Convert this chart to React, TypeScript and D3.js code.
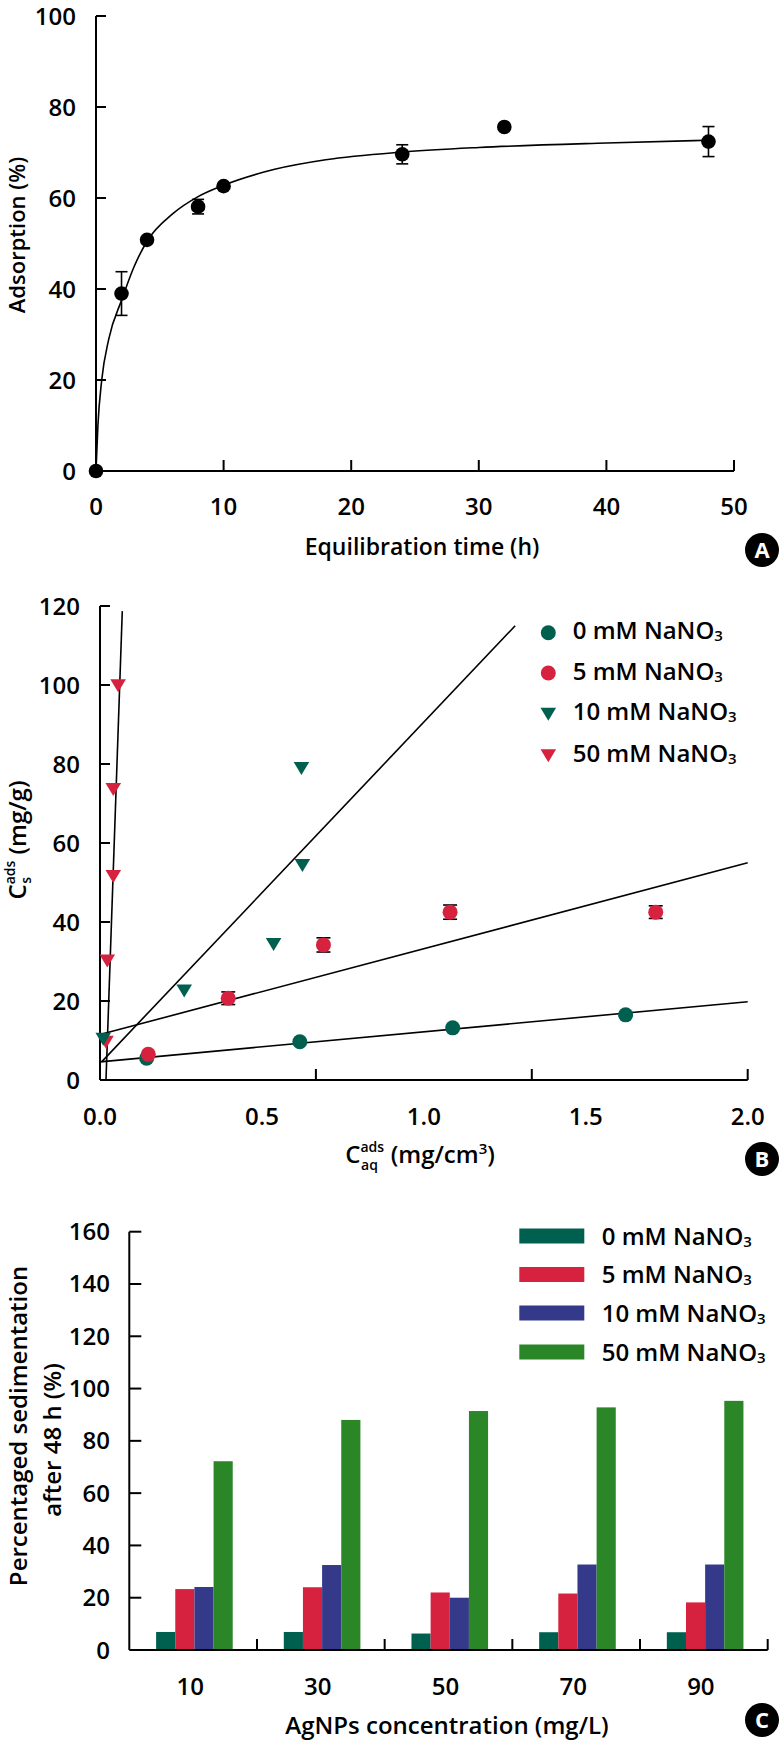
import React from 'react';
import * as d3 from 'd3';

const FONT = "'Open Sans', 'Noto Sans', sans-serif";
const FW = 600;

// ---------- Panel A ----------
const timeH = [0, 2, 4, 8, 10, 24, 32, 48];
const adsorptionPct = [0, 39, 50.8, 58.1, 62.6, 69.6, 75.6, 72.4];
const adsorptionErr = [0, 4.8, 0, 1.6, 0, 2.1, 0, 3.3];
const fitTimeH = [0, 0.15, 0.45, 1, 2, 3, 4, 6, 8, 10, 14, 18, 24, 30, 40, 48];
const fitAdsorption = [0, 10, 20, 29, 37.5, 45, 50.5, 56.5, 60.3, 62.8, 66.3, 68.4, 70.1, 71.1, 72.1, 72.7];
const aYTicks = [0, 20, 40, 60, 80, 100];
const aXTicks = [0, 10, 20, 30, 40, 50];

// ---------- Panel B ----------
const bSeriesNames = ['0 mM NaNO', '5 mM NaNO', '10 mM NaNO', '50 mM NaNO'];
const b0x = [0.144, 0.617, 1.089, 1.623];
const b0y = [5.5, 9.7, 13.2, 16.5];
const b5x = [0.149, 0.396, 0.69, 1.081, 1.716];
const b5y = [6.5, 20.7, 34.2, 42.5, 42.5];
const b5err = [0, 1.6, 1.8, 1.8, 1.6];
const b10x = [0.01, 0.26, 0.536, 0.625, 0.622];
const b10y = [10.5, 22.7, 34.5, 54.5, 79];
const b50x = [0.0185, 0.0225, 0.041, 0.041, 0.056];
const b50y = [9.7, 30.3, 51.7, 73.7, 100];
const bFit0x = [0, 2.0];
const bFit0y = [4.6, 19.8];
const bFit5x = [0, 2.0];
const bFit5y = [11.5, 55];
const bFit10x = [0.005, 1.282];
const bFit10y = [4.6, 115];
const bFit50x = [0.0185, 0.0688];
const bFit50y = [0, 118.7];
const bYTicks = [0, 20, 40, 60, 80, 100, 120];
const bXLabels = [0, 0.5, 1.0, 1.5, 2.0];
const bXTickMarks = [2 / 3, 4 / 3, 2];

// ---------- Panel C ----------
const concLabels = ['10', '30', '50', '70', '90'];
const cSeriesNames = ['0 mM NaNO', '5 mM NaNO', '10 mM NaNO', '50 mM NaNO'];
const sed0 = [6.9, 6.9, 6.3, 6.8, 6.8];
const sed5 = [23.3, 24, 22, 21.6, 18.2];
const sed10 = [24.1, 32.5, 20, 32.7, 32.7];
const sed50 = [72.2, 88, 91.4, 92.8, 95.3];
const cYTicks = [0, 20, 40, 60, 80, 100, 120, 140, 160];

const TEAL = '#00604f';
const RED = '#d6223f';
const BLUE = '#34398a';
const GREEN = '#2a8626';

const AX = 2;

function Badge({ cx, cy, letter }: { cx: number; cy: number; letter: string }) {
  return (
    <g>
      <circle cx={cx} cy={cy} r={17} fill="#000" />
      <text x={cx} y={cy + 8} textAnchor="middle" fontSize={22} fontWeight={700} fill="#fff" fontFamily={FONT}>
        {letter}
      </text>
    </g>
  );
}

function PanelA() {
  const x = d3.scaleLinear().domain([0, 50]).range([96, 734]);
  const y = d3.scaleLinear().domain([0, 100]).range([471, 16]);
  const line = d3
    .line<number>()
    .x((_, i) => x(fitTimeH[i]))
    .y((d) => y(d))
    .curve(d3.curveMonotoneX);
  return (
    <g>
      <line x1={x(0)} x2={x(0)} y1={y(0)} y2={y(100)} stroke="#000" strokeWidth={AX} />
      <line x1={x(0)} x2={x(50)} y1={y(0)} y2={y(0)} stroke="#000" strokeWidth={AX} />
      {aYTicks.map((t) => (
        <g key={'ay' + t}>
          {t > 0 && <line x1={x(0)} x2={x(0) + 10} y1={y(t)} y2={y(t)} stroke="#000" strokeWidth={AX} />}
          <text x={76} y={y(t) + 8.5} textAnchor="end" fontSize={24}>{t}</text>
        </g>
      ))}
      {aXTicks.map((t) => (
        <g key={'ax' + t}>
          {t > 0 && <line x1={x(t)} x2={x(t)} y1={y(0)} y2={y(0) - 11} stroke="#000" strokeWidth={AX} />}
          <text x={x(t)} y={515} textAnchor="middle" fontSize={24}>{t}</text>
        </g>
      ))}
      <path d={line(fitAdsorption) || ''} fill="none" stroke="#000" strokeWidth={1.6} />
      {timeH.map((t, i) =>
        adsorptionErr[i] > 0 ? (
          <g key={'ae' + i} stroke="#000" strokeWidth={1.6}>
            <line x1={x(t)} x2={x(t)} y1={y(adsorptionPct[i] - adsorptionErr[i])} y2={y(adsorptionPct[i] + adsorptionErr[i])} />
            <line x1={x(t) - 6} x2={x(t) + 6} y1={y(adsorptionPct[i] - adsorptionErr[i])} y2={y(adsorptionPct[i] - adsorptionErr[i])} />
            <line x1={x(t) - 6} x2={x(t) + 6} y1={y(adsorptionPct[i] + adsorptionErr[i])} y2={y(adsorptionPct[i] + adsorptionErr[i])} />
          </g>
        ) : null
      )}
      {timeH.map((t, i) => (
        <circle key={'ap' + i} cx={x(t)} cy={y(adsorptionPct[i])} r={7.3} fill="#000" />
      ))}
      <text x={422} y={555} textAnchor="middle" fontSize={23}>Equilibration time (h)</text>
      <text transform="translate(25,235) rotate(-90)" textAnchor="middle" fontSize={22}>Adsorption (%)</text>
      <Badge cx={762} cy={550} letter="A" />
    </g>
  );
}

function triPath(cx: number, cy: number) {
  const w = 7.8;
  const h = 13;
  return `M${cx - w},${cy - h * 0.45}L${cx + w},${cy - h * 0.45}L${cx},${cy + h * 0.55}Z`;
}

function PanelB() {
  const x = d3.scaleLinear().domain([0, 2]).range([100, 747.7]);
  const y = d3.scaleLinear().domain([0, 120]).range([1080, 606]);
  const fits: [number[], number[]][] = [
    [bFit0x, bFit0y],
    [bFit5x, bFit5y],
    [bFit10x, bFit10y],
    [bFit50x, bFit50y],
  ];
  const legendRows = [632.7, 673, 713.5, 755];
  return (
    <g>
      <line x1={x(0)} x2={x(0)} y1={y(0)} y2={y(120)} stroke="#000" strokeWidth={AX} />
      <line x1={x(0)} x2={x(2)} y1={y(0)} y2={y(0)} stroke="#000" strokeWidth={AX} />
      {bYTicks.map((t) => (
        <g key={'by' + t}>
          {t > 0 && <line x1={x(0)} x2={x(0) + 10} y1={y(t)} y2={y(t)} stroke="#000" strokeWidth={AX} />}
          <text x={80} y={y(t) + 8.5} textAnchor="end" fontSize={24}>{t}</text>
        </g>
      ))}
      {bXTickMarks.map((t, i) => (
        <line key={'bxt' + i} x1={x(t)} x2={x(t)} y1={y(0)} y2={y(0) - 11} stroke="#000" strokeWidth={AX} />
      ))}
      {bXLabels.map((t) => (
        <text key={'bxl' + t} x={x(t)} y={1125} textAnchor="middle" fontSize={24}>{t.toFixed(1)}</text>
      ))}
      {fits.map(([fx, fy], k) => (
        <line key={'bf' + k} x1={x(fx[0])} y1={y(fy[0])} x2={x(fx[1])} y2={y(fy[1])} stroke="#000" strokeWidth={1.6} />
      ))}
      {b0x.map((v, i) => (
        <circle key={'b0' + i} cx={x(v)} cy={y(b0y[i])} r={7.5} fill={TEAL} />
      ))}
      {b5x.map((v, i) => (
        <g key={'b5' + i}>
          {b5err[i] > 0 && (
            <g stroke="#000" strokeWidth={1.6}>
              <line x1={x(v)} x2={x(v)} y1={y(b5y[i] - b5err[i])} y2={y(b5y[i] + b5err[i])} />
              <line x1={x(v) - 7} x2={x(v) + 7} y1={y(b5y[i] - b5err[i])} y2={y(b5y[i] - b5err[i])} />
              <line x1={x(v) - 7} x2={x(v) + 7} y1={y(b5y[i] + b5err[i])} y2={y(b5y[i] + b5err[i])} />
            </g>
          )}
          <circle cx={x(v)} cy={y(b5y[i])} r={7.5} fill={RED} />
        </g>
      ))}
      {b50x.map((v, i) => (
        <path key={'b50' + i} d={triPath(x(v), y(b50y[i]))} fill={RED} />
      ))}
      {b10x.map((v, i) => (
        <path key={'b10' + i} d={triPath(x(v), y(b10y[i]))} fill={TEAL} />
      ))}
      {bSeriesNames.map((name, i) => (
        <g key={'bl' + i}>
          {i < 2 ? (
            <circle cx={548.3} cy={legendRows[i]} r={7.5} fill={i === 0 ? TEAL : RED} />
          ) : (
            <path d={triPath(548.3, legendRows[i])} fill={i === 2 ? TEAL : RED} />
          )}
          <text x={572.7} y={legendRows[i] + 6.5} fontSize={24}>
            {name}
            <tspan fontSize={15} dy={2}>3</tspan>
          </text>
        </g>
      ))}
      <text x={420} y={1163} textAnchor="middle" fontSize={24}>
        C<tspan fontSize={14} dy={-11}>ads</tspan>
        <tspan fontSize={14} dx={-23} dy={18}>aq</tspan>
        <tspan dx={6.5} dy={-7}> (mg/cm</tspan>
        <tspan fontSize={15} dy={-9}>3</tspan>
        <tspan dy={9}>)</tspan>
      </text>
      <text transform="translate(26,840) rotate(-90)" textAnchor="middle" fontSize={24}>
        C<tspan fontSize={14} dy={-11}>ads</tspan>
        <tspan fontSize={14} dx={-23} dy={16}>s</tspan>
        <tspan dx={16} dy={-5}> (mg/g)</tspan>
      </text>
      <Badge cx={762} cy={1159} letter="B" />
    </g>
  );
}

function PanelC() {
  const y = d3.scaleLinear().domain([0, 160]).range([1650, 1231.7]);
  const x0 = d3.scaleBand<string>().domain(concLabels).range([129.3, 767.7]).paddingInner(0).paddingOuter(0);
  const bw = x0.bandwidth();
  const series = [sed0, sed5, sed10, sed50];
  const colors = [TEAL, RED, BLUE, GREEN];
  const x1 = d3.scaleBand<number>().domain([0, 1, 2, 3]).range([0, bw * 0.6]).padding(0);
  const groupOffset = bw * 0.21;
  const legendRows = [1236, 1274.5, 1313, 1352];
  return (
    <g>
      {series.map((s, k) =>
        s.map((v, i) => (
          <rect
            key={'c' + k + '-' + i}
            x={(x0(concLabels[i]) || 0) + groupOffset + (x1(k) || 0)}
            y={y(v)}
            width={x1.bandwidth()}
            height={y(0) - y(v)}
            fill={colors[k]}
          />
        ))
      )}
      <line x1={129.3} x2={129.3} y1={y(0)} y2={y(160)} stroke="#000" strokeWidth={AX} />
      <line x1={129.3} x2={767.7} y1={y(0)} y2={y(0)} stroke="#000" strokeWidth={AX} />
      {cYTicks.map((t) => (
        <g key={'cy' + t}>
          {t > 0 && <line x1={129.3} x2={129.3 + 12} y1={y(t)} y2={y(t)} stroke="#000" strokeWidth={AX} />}
          <text x={110} y={y(t) + 8.5} textAnchor="end" fontSize={24}>{t}</text>
        </g>
      ))}
      {concLabels.map((c) => (
        <g key={'cx' + c}>
          <line x1={(x0(c) || 0) + bw} x2={(x0(c) || 0) + bw} y1={y(0)} y2={y(0) - 11} stroke="#000" strokeWidth={AX} />
          <text x={(x0(c) || 0) + bw / 2 - 3} y={1695} textAnchor="middle" fontSize={24}>{c}</text>
        </g>
      ))}
      {cSeriesNames.map((name, i) => (
        <g key={'cl' + i}>
          <rect x={519.3} y={legendRows[i] - 7.5} width={65} height={15} fill={colors[i]} />
          <text x={601.7} y={legendRows[i] + 8.6} fontSize={24}>
            {name}
            <tspan fontSize={15} dy={2}>3</tspan>
          </text>
        </g>
      ))}
      <text x={447} y={1734} textAnchor="middle" fontSize={24}>AgNPs concentration (mg/L)</text>
      <text transform="translate(27,1426) rotate(-90)" textAnchor="middle" fontSize={24}>Percentaged sedimentation</text>
      <text transform="translate(61,1440) rotate(-90)" textAnchor="middle" fontSize={24}>after 48 h (%)</text>
      <Badge cx={762} cy={1720} letter="C" />
    </g>
  );
}

export default function App() {
  return (
    <svg
      width={780}
      height={1742}
      viewBox="0 0 780 1742"
      style={{ position: 'absolute', left: 0, top: 0, background: '#fff' }}
      fontFamily={FONT}
      fontWeight={FW}
      fill="#000"
    >
      <rect x={0} y={0} width={780} height={1742} fill="#fff" />
      <PanelA />
      <PanelB />
      <PanelC />
    </svg>
  );
}
